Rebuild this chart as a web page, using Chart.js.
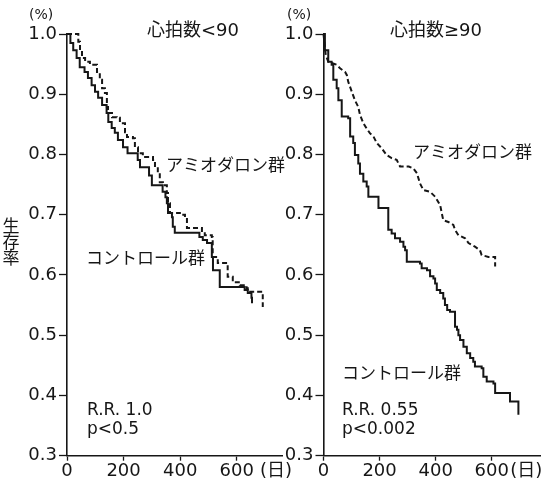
<!DOCTYPE html>
<html>
<head>
<meta charset="utf-8">
<script src="https://cdn.jsdelivr.net/npm/chart.js@4/dist/chart.umd.min.js"></script>
<style>
  html, body { margin:0; padding:0; background:#fff; }
  #wrap { position:relative; width:544px; height:486px; overflow:hidden; }
  canvas { position:absolute; top:0; }
</style>
</head>
<body>
<div id="wrap">
  <canvas id="left" width="300" height="486" style="left:0"></canvas>
  <canvas id="right" width="272" height="486" style="left:272px"></canvas>
</div>
<script>
// axis ticks
const xTickValues = [0, 200, 400, 600]
const yTickValues = [0.3, 0.4, 0.5, 0.6, 0.7, 0.8, 0.9, 1.0]
const unitLabel = '(日)'

// 心拍数<90 : control (solid)
const leftCtrlDays = [0, 12, 22, 34, 45, 62, 74, 87, 99, 110, 124, 140, 146, 158, 169, 180, 198, 214, 250, 258, 290, 300, 338, 348, 353, 357, 371, 374, 381, 468, 480, 495, 512, 516, 540, 628, 639, 652, 654]
const leftCtrlSurv = [1.0, 0.985, 0.973, 0.960, 0.945, 0.937, 0.927, 0.915, 0.904, 0.894, 0.882, 0.869, 0.854, 0.844, 0.836, 0.824, 0.812, 0.802, 0.791, 0.779, 0.765, 0.749, 0.738, 0.729, 0.719, 0.703, 0.696, 0.680, 0.670, 0.663, 0.658, 0.653, 0.630, 0.608, 0.580, 0.575, 0.570, 0.562, 0.553]
// 心拍数<90 : amiodarone (dashed)
const leftAmioDays = [0, 40, 46, 53, 64, 81, 106, 116, 124, 134, 141, 145, 159, 176, 187, 205, 212, 233, 240, 251, 268, 304, 311, 321, 328, 339, 353, 357, 364, 399, 417, 424, 477, 487, 512, 515, 533, 568, 586, 611, 635, 639, 692]
const leftAmioSurv = [1.0, 0.987, 0.973, 0.960, 0.954, 0.949, 0.937, 0.924, 0.910, 0.902, 0.879, 0.869, 0.862, 0.861, 0.852, 0.837, 0.829, 0.827, 0.812, 0.802, 0.796, 0.791, 0.779, 0.769, 0.754, 0.749, 0.736, 0.719, 0.703, 0.700, 0.696, 0.678, 0.671, 0.666, 0.663, 0.630, 0.620, 0.597, 0.588, 0.583, 0.578, 0.572, 0.547]

// 心拍数≥90 : control (solid)
const rightCtrlDays = [0, 5, 17, 29, 35, 47, 53, 65, 88, 95, 106, 112, 124, 130, 142, 154, 160, 196, 231, 243, 255, 273, 285, 291, 297, 344, 350, 369, 380, 392, 398, 404, 416, 427, 433, 441, 451, 469, 476, 481, 487, 499, 511, 523, 534, 540, 564, 570, 582, 606, 612, 665, 695]
const rightCtrlSurv = [1.0, 0.973, 0.954, 0.949, 0.924, 0.910, 0.890, 0.863, 0.860, 0.830, 0.819, 0.799, 0.785, 0.768, 0.755, 0.747, 0.730, 0.711, 0.675, 0.669, 0.661, 0.655, 0.647, 0.641, 0.622, 0.619, 0.611, 0.608, 0.598, 0.594, 0.586, 0.575, 0.570, 0.561, 0.550, 0.542, 0.539, 0.514, 0.509, 0.500, 0.492, 0.481, 0.470, 0.462, 0.456, 0.448, 0.445, 0.431, 0.423, 0.420, 0.404, 0.390, 0.368]
// 心拍数≥90 : amiodarone (dashed)
const rightAmioDays = [0, 8, 17, 47, 59, 77, 83, 88, 101, 112, 124, 130, 142, 154, 166, 178, 190, 208, 225, 243, 261, 273, 304, 320, 333, 344, 356, 380, 398, 416, 422, 427, 445, 463, 469, 481, 505, 517, 540, 558, 564, 588, 612, 612]
const rightAmioSurv = [1.0, 0.965, 0.954, 0.949, 0.943, 0.937, 0.932, 0.921, 0.904, 0.890, 0.879, 0.866, 0.852, 0.843, 0.835, 0.830, 0.819, 0.810, 0.799, 0.794, 0.791, 0.780, 0.780, 0.777, 0.769, 0.752, 0.741, 0.738, 0.730, 0.716, 0.702, 0.691, 0.688, 0.683, 0.675, 0.666, 0.661, 0.653, 0.647, 0.641, 0.633, 0.630, 0.630, 0.614]

const INK = '#161616'
const FONT = "'DejaVu Sans', 'Noto Sans CJK JP', sans-serif"

function pts(days, surv){
  return days.map((d, i) => ({x: d, y: surv[i]}))
}

function notesPlugin(items){
  return {
    id: 'notes',
    afterDraw(chart){
      const ctx = chart.ctx
      ctx.save()
      ctx.fillStyle = INK
      ctx.textBaseline = 'middle'
      items.forEach(n => {
        ctx.font = n.size + 'px ' + FONT
        ctx.textAlign = n.align || 'left'
        ctx.fillText(n.text, n.x, n.y)
      })
      ctx.restore()
    }
  }
}

function makePanel(id, p){
  const unitAt = p.unitAt
  return new Chart(document.getElementById(id), {
    type: 'line',
    data: {
      datasets: [
        {
          data: pts(p.ctrlDays, p.ctrlSurv),
          borderColor: INK,
          borderWidth: 2,
          stepped: 'before',
          pointRadius: 0,
          fill: false,
          clip: false
        },
        {
          data: pts(p.amioDays, p.amioSurv),
          borderColor: INK,
          borderWidth: 2,
          borderDash: [5, 3],
          stepped: p.amioStepped,
          pointRadius: 0,
          fill: false,
          clip: false
        }
      ]
    },
    options: {
      responsive: false,
      animation: false,
      layout: { padding: { left: 0, right: p.padRight, top: 34, bottom: 0 } },
      plugins: { legend: { display: false }, tooltip: { enabled: false } },
      scales: {
        x: {
          type: 'linear',
          min: 0,
          max: p.xMax,
          afterBuildTicks: s => { s.ticks = xTickValues.concat([unitAt]).map(v => ({value: v})) },
          afterFit: s => { s.height = 30.3 },
          border: { display: true, color: INK, width: 1.6 },
          grid: {
            drawOnChartArea: false,
            drawTicks: true,
            tickLength: 5,
            tickColor: c => (c.tick && c.tick.value === unitAt) ? 'rgba(0,0,0,0)' : INK,
            tickWidth: 1.3
          },
          ticks: {
            autoSkip: false,
            maxRotation: 0,
            padding: 0,
            color: INK,
            font: { family: FONT, size: 18 },
            callback: v => v === unitAt ? unitLabel : String(v)
          }
        },
        y: {
          min: 0.3,
          max: 1.0,
          afterBuildTicks: s => { s.ticks = yTickValues.map(v => ({value: v})) },
          afterFit: s => { s.width = p.yWidth },
          border: { display: true, color: INK, width: 1.6 },
          grid: { drawOnChartArea: false, drawTicks: true, tickLength: 8, tickColor: INK, tickWidth: 1.3 },
          ticks: {
            padding: 2,
            color: INK,
            font: { family: FONT, size: 18 },
            callback: v => Number(v).toFixed(1)
          }
        }
      }
    },
    plugins: [notesPlugin(p.notes)]
  })
}

makePanel('left', {
  ctrlDays: leftCtrlDays, ctrlSurv: leftCtrlSurv,
  amioDays: leftAmioDays, amioSurv: leftAmioSurv,
  amioStepped: 'before',
  xMax: 760, unitAt: 739, yWidth: 67, padRight: 18,
  notes: [
    {text: '(%)', x: 29, y: 15, size: 14},
    {text: '心拍数<90', x: 193, y: 31, size: 18, align: 'center'},
    {text: 'アミオダロン群', x: 166, y: 167, size: 17},
    {text: 'コントロール群', x: 86, y: 260, size: 17},
    {text: 'R.R. 1.0', x: 87, y: 411, size: 17},
    {text: 'p<0.5', x: 87, y: 430, size: 17},
    {text: '生', x: 11, y: 228, size: 17, align: 'center'},
    {text: '存', x: 11, y: 244, size: 17, align: 'center'},
    {text: '率', x: 11, y: 260, size: 17, align: 'center'}
  ]
})

makePanel('right', {
  ctrlDays: rightCtrlDays, ctrlSurv: rightCtrlSurv,
  amioDays: rightAmioDays, amioSurv: rightAmioSurv,
  amioStepped: false,
  xMax: 772, unitAt: 723, yWidth: 51.5, padRight: 4,
  notes: [
    {text: '(%)', x: 15, y: 15, size: 14},
    {text: '心拍数≥90', x: 164, y: 31, size: 18, align: 'center'},
    {text: 'アミオダロン群', x: 141, y: 154, size: 17},
    {text: 'コントロール群', x: 70, y: 375, size: 17},
    {text: 'R.R. 0.55', x: 70, y: 411, size: 17},
    {text: 'p<0.002', x: 70, y: 430, size: 17}
  ]
})
</script>
</body>
</html>
